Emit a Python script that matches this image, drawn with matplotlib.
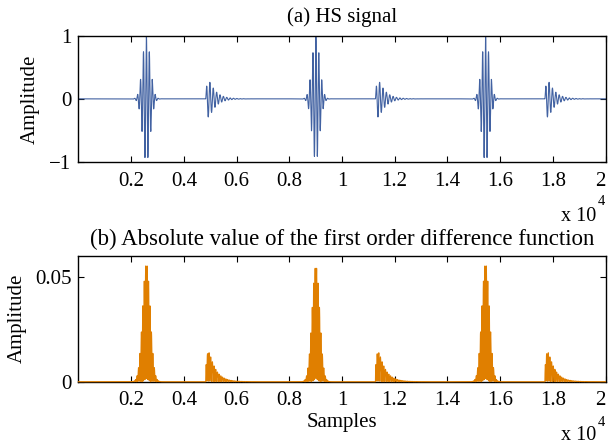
import numpy as np
import matplotlib
matplotlib.use("Agg")
import matplotlib.pyplot as plt

# ---- data (burst parameters) ----
n_samples = 20000
s1_centers = [2580, 9010, 15450]      # first heart sound positions (samples)
s1_amps = [1.0, 0.98, 1.0]
s1_sigma = 145                          # gaussian envelope width
s1_period = 112                         # oscillation period (samples)
s2_onsets = [4830, 11270, 17700]      # second heart sound onsets
s2_amps = [0.26, 0.26, 0.26]
s2_rise = 60
s2_tau = 260                            # decay constant
s2_period = 128

xticks = [2000, 4000, 6000, 8000, 10000, 12000, 14000, 16000, 18000, 20000]
xticklabels = ["0.2", "0.4", "0.6", "0.8", "1", "1.2", "1.4", "1.6", "1.8", "2"]
top_yticks = [-1, 0, 1]
top_yticklabels = ["\u22121", "0", "1"]
bot_yticks = [0, 0.05]
bot_yticklabels = ["0", "0.05"]

n = np.arange(n_samples)
sig = np.zeros(n_samples)
for c, a in zip(s1_centers, s1_amps):
    env = np.exp(-0.5 * ((n - c) / s1_sigma) ** 2)
    sig += a * env * np.cos(2 * np.pi * (n - c) / s1_period)
for o, a in zip(s2_onsets, s2_amps):
    t = np.clip(n - o, 0, None)
    env = np.where(n >= o, (1 - np.exp(-t / s2_rise)) * np.exp(-t / s2_tau), 0.0)
    sig += a * 2.0 * env * np.sin(2 * np.pi * t / s2_period)
sig = np.clip(sig, -1, 1)
dabs = np.abs(np.diff(sig))

# ---- styling ----
plt.rcParams['font.family'] = ['Liberation Serif', 'DejaVu Serif']
plt.rcParams['font.size'] = 15

W, H = 609, 445
fig = plt.figure(figsize=(W / 100, H / 100), dpi=100)

def box(l, t, r, b):
    return [l / W, 1 - b / H, (r - l) / W, (b - t) / H]

ax1 = fig.add_axes(box(78.4, 35.7, 605.5, 162))
ax2 = fig.add_axes(box(78.4, 255.7, 605.5, 381.7))

blue = "#4262a2"
orange = "#e07f00"

ax1.plot(n, sig, color=blue, lw=0.8)
ax1.set_xlim(0, 20000)
ax1.set_ylim(-1, 1)
ax1.set_yticks(top_yticks)
ax1.set_yticklabels(top_yticklabels)
ax1.set_title("(a) HS signal", fontsize=15, pad=10)
ax1.set_ylabel("Amplitude")

ax2.plot(n[1:], dabs, color=orange, lw=0.8, zorder=3, clip_on=False)
ax2.set_xlim(0, 20000)
ax2.set_ylim(0, 0.06)
ax2.set_yticks(bot_yticks)
ax2.set_yticklabels(bot_yticklabels)
ax2.set_title("(b) Absolute value of the first order difference function", fontsize=16.5, pad=8)
ax2.set_ylabel("Amplitude")
ax2.set_xlabel("Samples", labelpad=2)

for ax in (ax1, ax2):
    ax.set_xticks(xticks)
    ax.set_xticklabels(xticklabels)
    ax.tick_params(direction='in', top=True, right=True, length=4, width=0.8)
    ax.tick_params(axis='x', pad=7)
    ax.tick_params(axis='y', pad=5)
    for s in ax.spines.values():
        s.set_linewidth(1.0)
    ax.get_xticklabels()[-1].set_horizontalalignment('right')

# y-label centres
for ax, xc in ((ax1, 30), (ax2, 17)):
    ax.yaxis.label.set_verticalalignment('center')
    ax.yaxis.set_label_coords((xc - 78.4) / (605.5 - 78.4), 0.5)

# x 10^4 multipliers
for yb, ys in ((216.7, 202), (435, 422)):
    fig.text(596.5 / W, 1 - yb / H, "x 10", ha='right', va='center', fontsize=14.5)
    fig.text(597.5 / W, 1 - ys / H, "4", ha='left', va='center', fontsize=10.5)

fig.savefig("out.png", dpi=100)
